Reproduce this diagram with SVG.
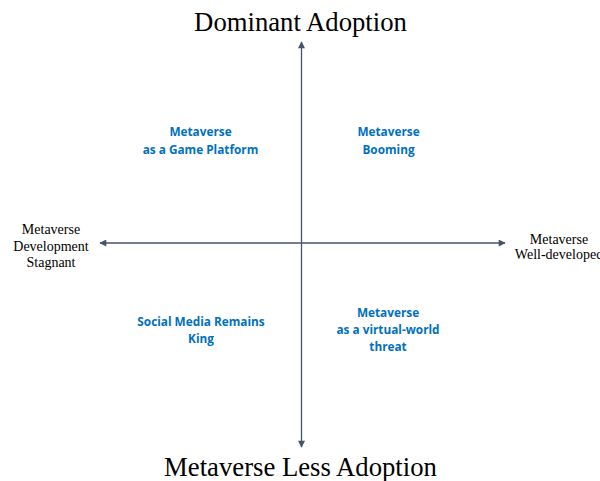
<svg xmlns="http://www.w3.org/2000/svg" width="600" height="481" viewBox="0 0 600 481">
  <style>
    .axis { stroke: #44546A; stroke-width: 1.3; fill: none; }
    .title { font-family: "Liberation Serif", "Times New Roman", serif; font-size: 26.7px; fill: #000; text-anchor: middle; }
    .side { font-family: "Liberation Serif", "Times New Roman", serif; font-size: 14px; fill: #000; text-anchor: middle; }
    .quad { font-family: "Open Sans", "Liberation Sans", sans-serif; font-size: 11.8px; font-weight: bold; fill: #0070C0; text-anchor: middle; }
  </style>
  <defs>
    <marker id="arrow" viewBox="0 0 10 10" refX="9" refY="5" markerWidth="8" markerHeight="7" markerUnits="userSpaceOnUse" orient="auto">
      <path d="M0,0 L10,5 L0,10 z" fill="#44546A"/>
    </marker>
  </defs>
  <rect width="600" height="481" fill="#fff"/>

  <g id="connectors">
    <line class="axis" x1="301.5" y1="243" x2="301.5" y2="42" marker-end="url(#arrow)"/>
    <line class="axis" x1="301.5" y1="243" x2="301.5" y2="447" marker-end="url(#arrow)"/>
    <line class="axis" x1="301.5" y1="243" x2="100" y2="243" marker-end="url(#arrow)"/>
    <line class="axis" x1="301.5" y1="243" x2="505" y2="243" marker-end="url(#arrow)"/>
  </g>

  <g id="top-label"><text class="title" x="300.5" y="31">Dominant Adoption</text></g>
  <g id="bottom-label"><text class="title" x="300.5" y="476">Metaverse Less Adoption</text></g>

  <g id="left-label">
    <text class="side" x="51" y="234">Metaverse</text>
    <text class="side" x="51" y="251">Development</text>
    <text class="side" x="51" y="267">Stagnant</text>
  </g>
  <g id="right-label">
    <text class="side" x="559" y="244">Metaverse</text>
    <text class="side" x="559" y="259">Well-developed</text>
  </g>

  <g id="q-top-left">
    <text class="quad" x="200.5" y="136">Metaverse</text>
    <text class="quad" x="200.5" y="154">as a Game Platform</text>
  </g>
  <g id="q-top-right">
    <text class="quad" x="388.5" y="136">Metaverse</text>
    <text class="quad" x="388.5" y="154">Booming</text>
  </g>
  <g id="q-bottom-left">
    <text class="quad" x="201" y="326">Social Media Remains</text>
    <text class="quad" x="201" y="343">King</text>
  </g>
  <g id="q-bottom-right">
    <text class="quad" x="388" y="317">Metaverse</text>
    <text class="quad" x="388" y="334">as a virtual-world</text>
    <text class="quad" x="388" y="351">threat</text>
  </g>
</svg>
